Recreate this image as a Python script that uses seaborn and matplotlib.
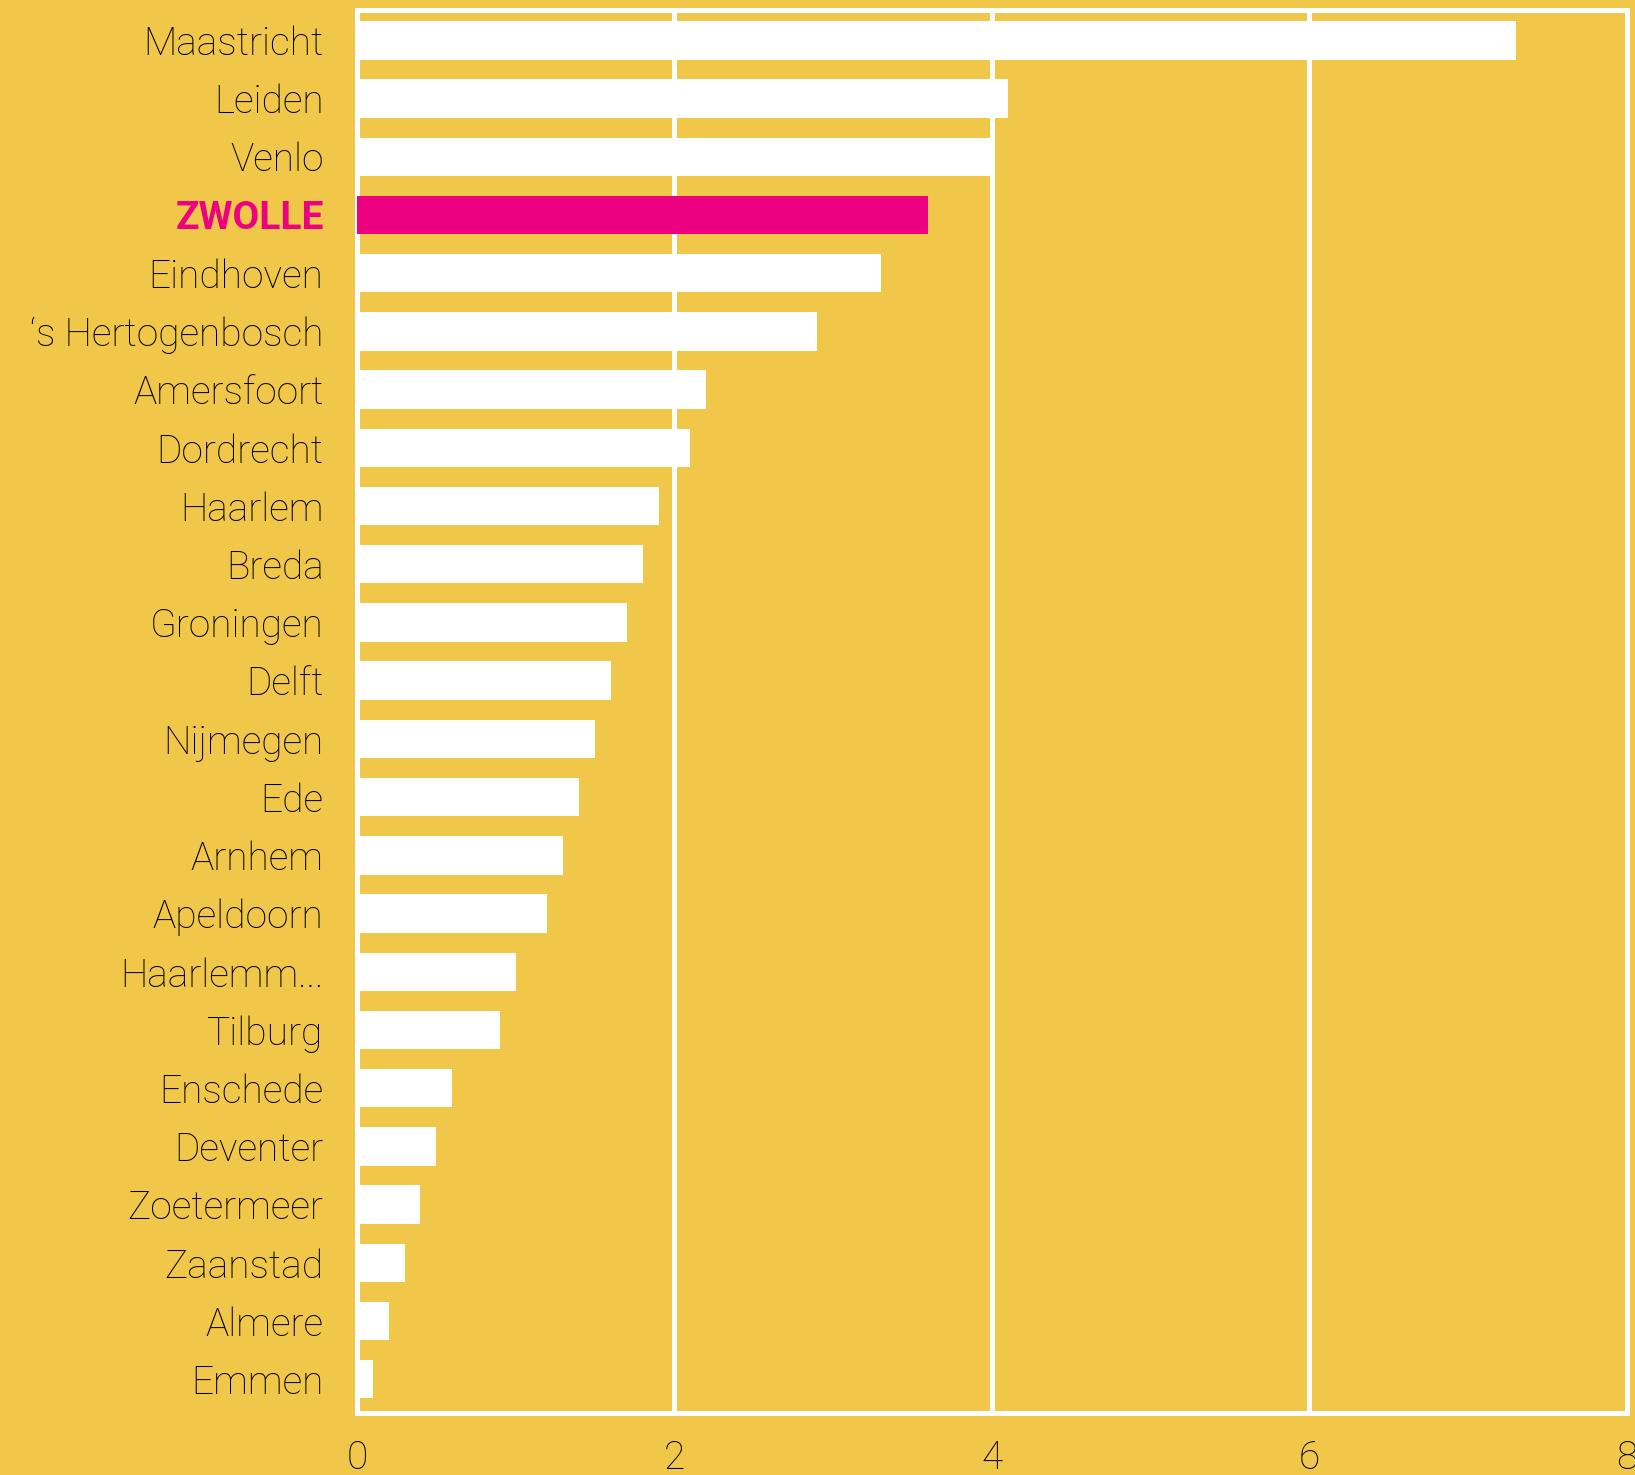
import pandas as pd
import matplotlib
matplotlib.use("Agg")
import matplotlib.pyplot as plt
import seaborn as sns

# =============================
# data
# =============================
CITIES = ["Maastricht", "Leiden", "Venlo", "ZWOLLE", "Eindhoven", "‘s Hertogenbosch",
          "Amersfoort", "Dordrecht", "Haarlem", "Breda", "Groningen", "Delft",
          "Nijmegen", "Ede", "Arnhem", "Apeldoorn", "Haarlemm...", "Tilburg",
          "Enschede", "Deventer", "Zoetermeer", "Zaanstad", "Almere", "Emmen"]
VALUES = [7.3, 4.1, 4.0, 3.6, 3.3, 2.9, 2.2, 2.1, 1.9, 1.8, 1.7, 1.6,
          1.5, 1.4, 1.3, 1.2, 1.0, 0.9, 0.6, 0.5, 0.4, 0.3, 0.2, 0.1]
HIGHLIGHT = "ZWOLLE"
XTICKS = [0, 2, 4, 6, 8]

BG = "#F0C749"
PINK = "#EC0180"

df = pd.DataFrame({"stad": CITIES, "waarde": VALUES})
colors = [PINK if c == HIGHLIGHT else "white" for c in CITIES]

sns.set_theme(style="white")
plt.rcParams["font.family"] = ["Roboto", "DejaVu Sans"]

fig = plt.figure(figsize=(16.35, 14.75), dpi=100, facecolor=BG)
ax = fig.add_axes([0.2183, 0.042, 0.9951 - 0.2183, 0.9932 - 0.042])
ax.set_facecolor(BG)

sns.barplot(data=df, x="waarde", y="stad", hue="stad", palette=colors,
            legend=False, width=0.66, saturation=1, linewidth=0, ax=ax, zorder=3)

ax.set_xlim(0, 8)
ax.set_ylim(23.58, -0.52)
ax.set_xticks(XTICKS)
ax.set_xticklabels([str(t) for t in XTICKS])
ax.grid(axis="x", color="white", linewidth=3.6, zorder=1)
ax.set_axisbelow(True)
for s in ax.spines.values():
    s.set_visible(True)
    s.set_color("white")
    s.set_linewidth(3.6)

ax.set_xlabel("")
ax.set_ylabel("")
ax.tick_params(axis="y", length=0, pad=24, labelsize=28)
ax.tick_params(axis="x", length=0, pad=19, labelsize=28)
for lab in ax.get_yticklabels() + ax.get_xticklabels():
    lab.set_fontweight("light")
    lab.set_color("black")
for lab in ax.get_yticklabels():
    if lab.get_text() == HIGHLIGHT:
        lab.set_color(PINK)
        lab.set_fontweight("bold")

fig.savefig("out.png", dpi=100, facecolor=BG)
